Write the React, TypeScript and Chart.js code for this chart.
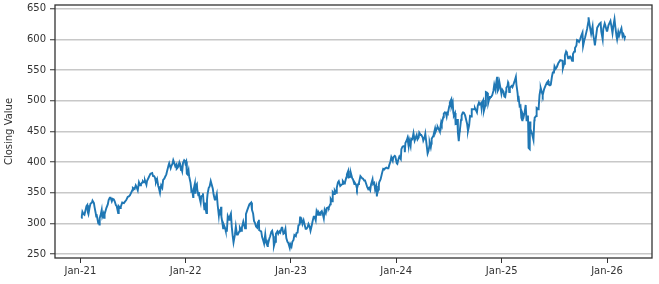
import React, { useEffect, useRef } from "react";
import { Chart, registerables } from "chart.js";

Chart.register(...registerables);

// Dates (MM-DD) and closing values per year
const d2021 = ["01-04","01-06","01-08","01-12","01-15","01-20","01-22","01-25","01-27","01-29","02-02","02-05","02-10","02-12","02-17","02-19","02-23","02-25","02-26","03-04","03-05","03-08","03-09","03-12","03-16","03-18","03-22","03-24","03-26","04-01","04-06","04-09","04-13","04-16","04-20","04-23","04-27","04-30","05-04","05-07","05-12","05-14","05-19","05-21","05-26","06-01","06-04","06-09","06-14","06-18","06-22","06-25","06-30","07-02","07-08","07-12","07-16","07-19","07-23","07-27","07-30","08-04","08-06","08-10","08-13","08-18","08-20","08-25","08-27","09-01","09-07","09-10","09-14","09-17","09-20","09-24","09-28","09-30","10-04","10-06","10-08","10-12","10-15","10-19","10-22","10-26","10-29","11-03","11-05","11-10","11-12","11-16","11-19","11-22","11-26","11-30","12-01","12-03","12-06","12-10","12-13","12-16","12-17","12-20","12-23","12-27","12-29","12-31"];
const v2021 = [309,312,319,315,314,324,328,330,318,315,326,332,334,337,333,327,317,311,315,300,306,298,309,313,322,311,316,309,315,325,331,338,342,342,336,340,339,336,330,328,317,328,325,327,334,333,335,338,343,344,346,349,354,358,356,362,358,354,367,362,364,367,369,367,370,363,369,374,376,381,382,377,377,374,367,372,361,358,350,357,362,358,371,373,376,380,386,395,398,390,393,397,403,399,393,396,389,390,392,399,394,387,390,385,399,403,402,398];

const d2022 = ["01-03","01-05","01-07","01-11","01-13","01-18","01-20","01-21","01-24","01-27","01-28","02-02","02-03","02-04","02-09","02-10","02-14","02-16","02-18","02-22","02-24","02-28","03-02","03-04","03-07","03-09","03-11","03-14","03-16","03-18","03-22","03-25","03-29","04-01","04-05","04-08","04-12","04-14","04-19","04-22","04-26","04-28","04-29","05-04","05-05","05-09","05-11","05-13","05-18","05-20","05-24","05-27","06-01","06-03","06-07","06-10","06-13","06-16","06-21","06-24","06-28","07-01","07-06","07-08","07-13","07-15","07-20","07-22","07-26","07-29","08-03","08-05","08-10","08-12","08-16","08-19","08-23","08-26","08-30","09-02","09-06","09-09","09-12","09-13","09-16","09-20","09-23","09-27","09-30","10-04","10-07","10-12","10-13","10-14","10-18","10-21","10-25","10-28","11-01","11-03","11-07","11-10","11-15","11-18","11-22","11-25","11-30","12-02","12-06","12-09","12-13","12-16","12-20","12-23","12-28","12-30"];
const v2022 = [401,381,380,387,377,366,358,352,353,343,354,365,350,360,364,356,346,351,342,334,344,345,349,336,323,334,324,317,338,348,358,360,369,364,357,347,339,339,348,330,313,323,313,327,311,299,292,298,292,288,288,312,306,311,316,294,280,269,282,295,282,282,287,293,288,293,303,303,292,315,322,322,331,331,334,322,316,304,300,295,293,302,306,289,288,287,278,272,267,282,269,263,268,267,275,279,286,288,279,263,270,283,287,283,287,285,293,293,283,284,291,276,270,268,260,266];

const d2023 = ["01-03","01-06","01-10","01-13","01-18","01-20","01-24","01-27","01-31","02-02","02-03","02-07","02-10","02-14","02-17","02-21","02-24","02-28","03-03","03-07","03-10","03-14","03-17","03-21","03-24","03-28","03-31","04-05","04-07","04-12","04-14","04-18","04-21","04-25","04-28","05-02","05-05","05-10","05-12","05-17","05-19","05-24","05-26","05-31","06-02","06-07","06-09","06-13","06-16","06-21","06-23","06-28","06-30","07-06","07-07","07-12","07-14","07-19","07-21","07-26","07-28","08-02","08-04","08-09","08-11","08-15","08-18","08-22","08-25","08-30","09-01","09-06","09-08","09-12","09-15","09-20","09-22","09-26","09-29","10-03","10-06","10-11","10-13","10-17","10-20","10-24","10-26","10-27","10-31","11-02","11-03","11-08","11-10","11-14","11-17","11-21","11-24","11-28","12-01","12-05","12-08","12-12","12-15","12-20","12-22","12-27","12-29"];
const v2023 = [262,270,273,281,279,284,285,297,298,311,302,306,299,305,299,291,291,294,299,295,288,296,303,311,311,305,320,314,318,314,318,320,316,308,322,317,325,326,325,331,340,336,351,348,354,350,358,367,369,361,361,364,369,365,366,375,380,386,375,376,382,373,372,364,366,363,357,364,366,377,377,373,373,370,370,363,360,356,358,354,364,372,364,366,355,361,344,348,355,363,367,372,376,384,389,388,390,391,390,390,395,401,408,402,408,410,409];

const d2024 = ["01-03","01-05","01-09","01-12","01-17","01-19","01-23","01-26","01-30","01-31","02-02","02-07","02-09","02-13","02-15","02-20","02-22","02-26","03-01","03-05","03-08","03-12","03-15","03-19","03-21","03-26","03-28","04-02","04-04","04-09","04-11","04-15","04-19","04-22","04-25","04-26","04-30","05-02","05-03","05-08","05-10","05-15","05-17","05-22","05-24","05-29","05-31","06-05","06-07","06-12","06-14","06-18","06-21","06-24","06-26","06-28","07-03","07-05","07-10","07-11","07-15","07-17","07-19","07-23","07-24","07-26","07-29","07-31","08-02","08-05","08-08","08-09","08-13","08-15","08-19","08-21","08-23","08-27","08-30","09-03","09-06","09-10","09-13","09-17","09-19","09-23","09-27","09-30","10-03","10-07","10-10","10-14","10-17","10-21","10-23","10-25","10-29","10-31","11-05","11-07","11-11","11-14","11-15","11-19","11-21","11-25","11-29","12-03","12-06","12-10","12-13","12-16","12-18","12-20","12-24","12-27","12-31"];
const v2024 = [398,397,405,409,405,421,425,426,426,416,431,436,439,426,436,426,438,437,447,435,439,444,437,440,448,444,444,440,435,441,446,430,414,418,426,432,424,430,438,442,445,455,450,456,457,452,450,465,462,473,479,481,480,474,480,479,491,497,502,491,497,481,476,480,462,462,463,470,448,434,450,453,469,476,481,481,480,476,476,462,451,460,475,474,486,486,486,488,485,481,492,497,494,496,488,497,501,483,492,514,513,507,496,504,506,506,509,516,526,518,530,539,516,518,530,522,511];

const d2025 = ["01-03","01-07","01-10","01-13","01-16","01-17","01-21","01-23","01-24","01-27","01-29","01-31","02-04","02-07","02-11","02-14","02-19","02-21","02-25","02-27","02-28","03-04","03-07","03-10","03-13","03-14","03-18","03-21","03-25","03-28","03-31","04-02","04-04","04-08","04-09","04-10","04-11","04-16","04-21","04-24","04-25","04-30","05-02","05-07","05-09","05-12","05-15","05-16","05-21","05-23","05-28","05-30","06-04","06-06","06-11","06-13","06-17","06-20","06-24","06-27","07-01","07-03","07-07","07-11","07-16","07-18","07-23","07-25","07-31","08-01","08-05","08-08","08-12","08-15","08-19","08-22","08-26","08-29","09-02","09-05","09-09","09-12","09-17","09-19","09-23","09-26","09-30","10-03","10-08","10-10","10-14","10-17","10-21","10-24","10-28","10-29","10-31","11-04","11-07","11-12","11-14","11-18","11-20","11-24","11-28","12-02","12-05","12-10","12-12","12-17","12-19","12-24","12-26","12-31"];
const v2025 = [518,515,507,506,515,521,524,530,529,514,520,522,524,522,527,531,539,526,512,500,508,491,492,472,468,479,474,480,493,468,468,476,423,421,466,446,454,446,436,468,472,475,488,486,488,509,518,521,512,509,519,519,527,529,532,526,525,526,539,546,546,556,552,555,561,561,566,566,565,553,560,574,580,577,569,571,572,570,565,576,580,586,590,599,598,596,600,605,611,589,598,603,611,617,628,636,629,617,609,621,608,597,590,605,619,622,625,627,613,600,617,626,623,614];

const d2026 = ["01-02","01-06","01-09","01-13","01-16","01-20","01-23","01-27","01-30","02-03","02-05","02-09","02-12","02-17","02-20","02-24","02-27","03-03","03-05"];
const v2026 = [614,623,626,630,622,610,622,633,620,605,600,612,606,614,618,605,608,602,606];

const yearBlocks: [number, string[], number[]][] = [
  [2021, d2021, v2021],
  [2022, d2022, v2022],
  [2023, d2023, v2023],
  [2024, d2024, v2024],
  [2025, d2025, v2025],
  [2026, d2026, v2026],
];

const tickYears = [2021, 2022, 2023, 2024, 2025, 2026];
const tickLabels = ["Jan-21", "Jan-22", "Jan-23", "Jan-24", "Jan-25", "Jan-26"];
const yTicks = [250, 300, 350, 400, 450, 500, 550, 600, 650];

const BASE = Date.UTC(2021, 0, 1);
function dayNum(year: number, md: string): number {
  const [m, d] = md.split("-").map(Number);
  return (Date.UTC(year, m - 1, d) - BASE) / 86400000;
}

const FONT = "'DejaVu Sans', sans-serif";

export default function App() {
  const ref = useRef<HTMLCanvasElement>(null);

  useEffect(() => {
    if (!ref.current) return;
    const points: { x: number; y: number }[] = [];
    yearBlocks.forEach(([yr, ds, vs]) => {
      ds.forEach((md, i) => points.push({ x: dayNum(yr, md), y: vs[i] }));
    });
    const tickDays = tickYears.map((y) => dayNum(y, "01-01"));
    const labelMap = new Map<number, string>();
    tickDays.forEach((d, i) => labelMap.set(d, tickLabels[i]));

    const framePlugin = {
      id: "frame",
      afterDraw(chart: any) {
        const { ctx, chartArea } = chart;
        ctx.save();
        ctx.strokeStyle = "#333";
        ctx.lineWidth = 1.3;
        ctx.strokeRect(chartArea.left, chartArea.top, chartArea.right - chartArea.left, chartArea.bottom - chartArea.top);
        ctx.restore();
      },
    };

    const chart = new Chart(ref.current, {
      type: "line",
      data: {
        datasets: [
          {
            data: points,
            borderColor: "#1f77b4",
            borderWidth: 1.9,
            pointRadius: 0,
            tension: 0,
            fill: false,
          },
        ],
      },
      options: {
        animation: false,
        responsive: false,
        maintainAspectRatio: false,
        layout: { padding: { top: 5, right: 7, left: 0, bottom: 0 } },
        plugins: { legend: { display: false }, tooltip: { enabled: false } },
        scales: {
          x: {
            type: "linear",
            min: -88,
            max: dayNum(2026, "01-01") + 156,
            afterBuildTicks: (scale: any) => {
              scale.ticks = tickDays.map((v) => ({ value: v }));
            },
            afterFit: (scale: any) => {
              scale.height = 26;
              scale.paddingLeft = 0;
              scale.paddingRight = 0;
            },
            ticks: {
              autoSkip: false,
              maxRotation: 0,
              padding: 2,
              color: "#333",
              font: { family: FONT, size: 10 },
              callback: (v: any) => labelMap.get(Number(v)) ?? "",
            },
            grid: {
              drawOnChartArea: false,
              drawTicks: true,
              tickLength: 5,
              tickColor: "#333",
              tickWidth: 1,
            },
            border: { display: false },
          },
          y: {
            type: "linear",
            min: 243.6,
            max: 656,
            afterBuildTicks: (scale: any) => {
              scale.ticks = yTicks.map((v) => ({ value: v }));
            },
            afterFit: (scale: any) => {
              scale.width = 55;
              scale.paddingTop = 0;
              scale.paddingBottom = 0;
            },
            ticks: {
              padding: 4,
              color: "#333",
              font: { family: FONT, size: 10 },
              callback: (v: any) => String(v),
            },
            grid: {
              color: "#c8c8c8",
              lineWidth: 1.5,
              drawTicks: true,
              tickLength: 5,
              tickColor: "#333",
              tickWidth: 1,
            },
            border: { display: false },
            title: {
              display: true,
              text: "Closing Value",
              color: "#333",
              font: { family: FONT, size: 10 },
              padding: { top: 3, bottom: 3 },
            },
          },
        },
      },
      plugins: [framePlugin],
    });
    return () => chart.destroy();
  }, []);

  return (
    <div style={{ position: "absolute", left: 0, top: 0, width: 659, height: 284, background: "#fff" }}>
      <canvas ref={ref} width={659} height={284} style={{ width: 659, height: 284, display: "block" }} />
    </div>
  );
}
